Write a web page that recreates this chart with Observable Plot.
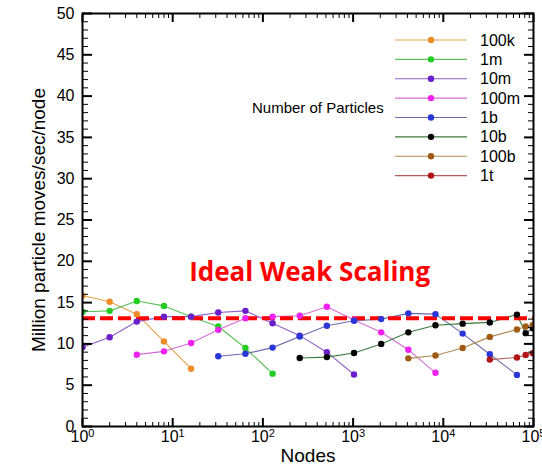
<!DOCTYPE html>
<html><head><meta charset="utf-8">
<script src="https://cdn.jsdelivr.net/npm/d3@7"></script>
<script src="https://cdn.jsdelivr.net/npm/@observablehq/plot@0.6"></script>
<style>
body{margin:0;background:#fff;}
#chart{position:relative;width:542px;height:464px;}
</style>
</head><body><div id="chart"></div>
<script>
// ---- data ----
const seriesNames = ["100k","1m","10m","100m","1b","10b","100b","1t"];
const lineColors = ["#e6a24e","#5cc05c","#8c5ec8","#d66cd6","#6c6cac","#3e7a3e","#b08c52","#b25c5c"];
const dotColors  = ["#f08c28","#22cc22","#6a1ecc","#ee22ee","#2a36d8","#000000","#a05a14","#b01414"];

const nodes100k = [1,2,4,8,16];
const vals100k  = [15.85,15.1,13.6,10.3,7.0];
const nodes1m = [1,2,4,8,16,32,64,128];
const vals1m  = [13.9,14.0,15.2,14.6,13.3,12.1,9.5,6.4];
const nodes10m = [1,2,4,8,16,32,64,128,256,512,1024];
const vals10m  = [9.6,10.8,12.7,13.3,13.3,13.8,14.0,12.5,11.0,9.0,6.3];
const nodes100m = [4,8,16,32,64,128,256,512,1024,2048,4096,8192];
const vals100m  = [8.7,9.1,10.1,11.7,13.1,13.3,13.4,14.5,12.9,11.4,9.3,6.5];
const nodes1b = [32,64,128,256,512,1024,2048,4096,8192,16384,32768,65536];
const vals1b  = [8.5,8.8,9.55,10.9,12.2,12.8,13.0,13.7,13.6,11.25,8.75,6.25];
const nodes10b = [256,512,1024,2048,4096,8192,16384,32768,65536,81920,98304];
const vals10b  = [8.3,8.4,8.9,10.0,11.4,12.25,12.45,12.6,13.55,11.3,11.9];
const nodes100b = [4096,8192,16384,32768,65536,81920,98304];
const vals100b  = [8.25,8.6,9.5,10.85,11.75,12.1,12.3];
const nodes1t = [32768,65536,81920,98304];
const vals1t  = [8.1,8.35,8.67,8.86];

const idealValue = 13.1;
const annotationText = ["Ideal Weak Scaling"];
const annotationX = [330];
const annotationY = [18.6];
const legendTitle = "Number of Particles";

const xMajorTicks = [1,10,100,1000,10000,100000];
const xMinorTicks = [];
for (let k = 0; k < 5; k++) for (let m = 2; m <= 9; m++) xMinorTicks.push(m * Math.pow(10, k));
const yMajorTicks = d3.range(0, 51, 5);
const yMinorTicks = d3.range(0, 51, 1).filter(v => v % 5 !== 0);

const allNodes = [nodes100k,nodes1m,nodes10m,nodes100m,nodes1b,nodes10b,nodes100b,nodes1t];
const allVals  = [vals100k,vals1m,vals10m,vals100m,vals1b,vals10b,vals100b,vals1t];
const seriesRows = seriesNames.map((s, i) => allNodes[i].map((n, j) => ({series: s, nodes: n, value: allVals[i][j]})));

const W = 542, H = 464;
const marks = [];
seriesRows.forEach((rows, i) => {
  marks.push(Plot.line(rows, {x: "nodes", y: "value", stroke: lineColors[i], strokeWidth: 1.1, clip: true}));
});
marks.push(Plot.ruleY([idealValue], {stroke: "#ff0000", strokeWidth: 4, strokeDasharray: "13,5"}));
seriesRows.forEach((rows, i) => {
  marks.push(Plot.dot(rows, {x: "nodes", y: "value", r: 3.2, fill: dotColors[i], stroke: "none", clip: true}));
});
marks.push(Plot.text(annotationText, {x: annotationX, y: annotationY, text: d => d, fill: "#ff0000",
  fontFamily: "Open Sans", fontWeight: 700, fontSize: 26, textAnchor: "middle"}));
marks.push(Plot.frame({stroke: "#000", strokeWidth: 2}));
// axes (ticks inward)
const tickLab = {fontSize: 16};
marks.push(Plot.axisY(yMajorTicks, {anchor: "left", tickSize: -10, tickPadding: 18, strokeWidth: 2, label: null, ...tickLab}));
marks.push(Plot.axisY(yMinorTicks, {anchor: "left", tickSize: -6, tickFormat: () => "", label: null}));
marks.push(Plot.axisY(yMajorTicks, {anchor: "right", tickSize: -10, strokeWidth: 2, tickFormat: () => "", label: null}));
marks.push(Plot.axisY(yMinorTicks, {anchor: "right", tickSize: -6, tickFormat: () => "", label: null}));
marks.push(Plot.axisX(xMajorTicks, {anchor: "bottom", tickSize: -8, tickPadding: 12, strokeWidth: 2,
  tickFormat: d => String(Math.round(Math.log10(d))), label: null, ...tickLab}));
marks.push(Plot.axisX(xMinorTicks, {anchor: "bottom", tickSize: -4, tickFormat: () => "", label: null}));
marks.push(Plot.axisX(xMajorTicks, {anchor: "top", tickSize: -8, strokeWidth: 2, tickFormat: () => "", label: null}));
marks.push(Plot.axisX(xMinorTicks, {anchor: "top", tickSize: -4, tickFormat: () => "", label: null}));
marks.push(Plot.axisX([], {anchor: "bottom", label: "Nodes", labelAnchor: "center", labelArrow: "none", tickSize: 0, fontSize: 19}));
marks.push(Plot.axisY([], {anchor: "left", label: "Million particle moves/sec/node", labelAnchor: "center", labelArrow: "none", labelOffset: 51, tickSize: 0, fontSize: 19}));

const chart = Plot.plot({
  width: W, height: H,
  marginLeft: 82, marginRight: 9, marginTop: 13, marginBottom: 38,
  x: {type: "log", domain: [1, 100000]},
  y: {domain: [0, 50]},
  style: {fontFamily: "'Liberation Sans', Arial, sans-serif", fontSize: "16px", color: "#000", background: "#fff"},
  marks
});
document.getElementById("chart").appendChild(chart);

// superscript exponents on x tick labels
d3.select(chart).selectAll("g[aria-label='x-axis tick label'] text").each(function() {
  const t = d3.select(this);
  const e = t.text();
  if (e === "") return;
  t.text("");
  t.append("tspan").text("10");
  t.append("tspan").attr("dy", "-0.45em").attr("font-size", "11px").text(e);
});

// legend (inside the plot area, top right)
const svg = d3.select(chart);
const lg = svg.append("g").attr("font-family", "'Liberation Sans', Arial, sans-serif").attr("text-anchor", "start");
const rowY0 = 40, rowStep = 19.37;
seriesNames.forEach((name, i) => {
  const y = rowY0 + i * rowStep;
  lg.append("line").attr("x1", 395).attr("x2", 467).attr("y1", y).attr("y2", y)
    .attr("stroke", lineColors[i]).attr("stroke-width", 1.1);
  lg.append("circle").attr("cx", 431).attr("cy", y).attr("r", 3.2).attr("fill", dotColors[i]);
  lg.append("text").attr("x", 480).attr("y", y).attr("dy", "0.35em").attr("font-size", 16)
    .attr("text-anchor", "start").attr("fill", "#000").text(name);
});
lg.append("text").attr("x", 252).attr("y", 112.7).attr("font-size", 15).attr("text-anchor", "start")
  .attr("fill", "#000").text(legendTitle);
</script>
</body></html>
